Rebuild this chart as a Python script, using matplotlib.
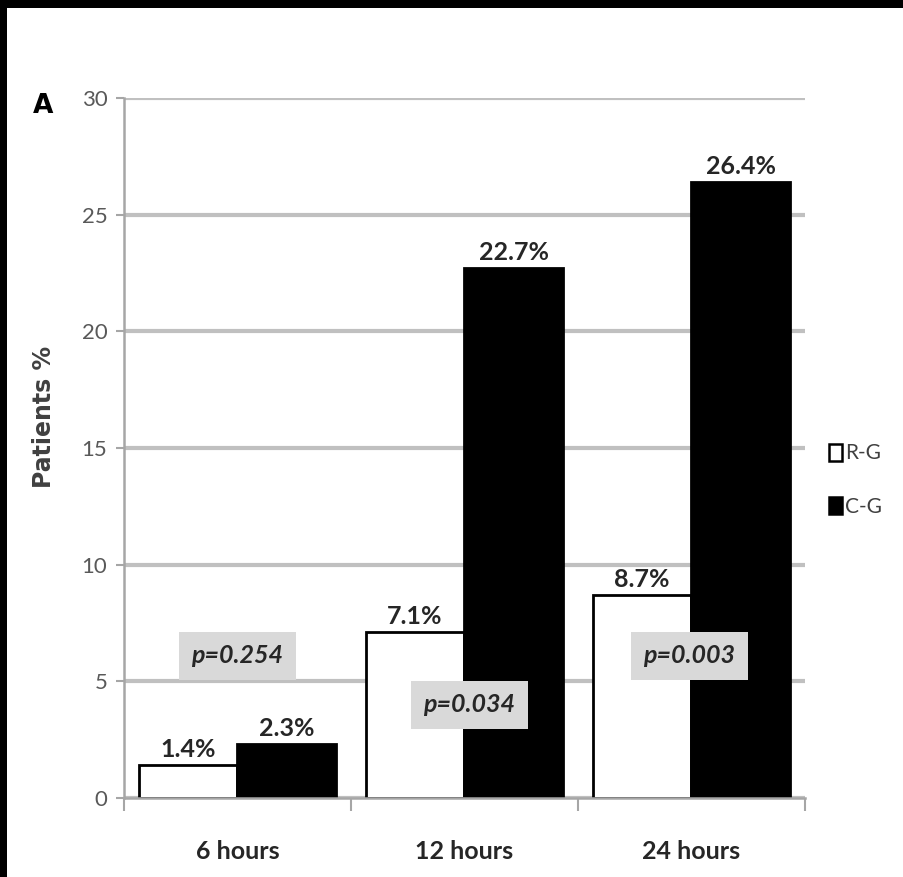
import matplotlib
matplotlib.use("Agg")
import matplotlib.pyplot as plt
from matplotlib.patches import Patch, Rectangle
import numpy as np

# Data
categories = ["6 hours", "12 hours", "24 hours"]
series_names = ["R-G", "C-G"]
rg_values = [1.4, 7.1, 8.7]
cg_values = [2.3, 22.7, 26.4]
p_labels = ["p=0.254", "p=0.034", "p=0.003"]
y_ticks = [0, 5, 10, 15, 20, 25, 30]

# Annotation placement for the p-value boxes (data coordinates)
p_pos_x = [0.0, 1.02, 1.99]
p_pos_y = [6.1, 4.0, 6.1]

W, H = 904, 877
fig = plt.figure(figsize=(W / 100, H / 100), dpi=100)
fig.patch.set_facecolor("black")
# white page inside the thin black frame (top and left)
fig.add_artist(Rectangle((7 / W, 0), 1 - 7 / W, 1 - 8 / H,
                         transform=fig.transFigure, facecolor="white",
                         edgecolor="none", zorder=0))

ax = fig.add_axes([124 / W, 79 / H, (805 - 124) / W, 700 / H])
ax.set_facecolor("none")

x = np.arange(len(categories))
bw = 0.436
ax.bar(x - bw / 2, rg_values, width=bw, color="white", edgecolor="black",
       linewidth=2, zorder=3)
ax.bar(x + bw / 2, cg_values, width=bw, color="black", edgecolor="black",
       linewidth=2, zorder=3)

lab_font = dict(family="Lato", fontweight="bold", fontsize=18, color="#262626")
for xi, v in zip(x - bw / 2, rg_values):
    ax.annotate(f"{v:.1f}%", (xi, v), xytext=(0, 3), textcoords="offset points",
                ha="center", va="bottom", zorder=5, **lab_font)
for xi, v in zip(x + bw / 2, cg_values):
    ax.annotate(f"{v:.1f}%", (xi, v), xytext=(0, 3), textcoords="offset points",
                ha="center", va="bottom", zorder=5, **lab_font)

for px, py, t in zip(p_pos_x, p_pos_y, p_labels):
    ax.text(px, py, t, ha="center", va="center", family="Lato",
            fontweight="bold", fontstyle="italic", fontsize=18, color="#262626",
            zorder=6,
            bbox=dict(boxstyle="square,pad=0.5", facecolor="#d9d9d9",
                      edgecolor="none"))

ax.set_xlim(-0.5, 2.5)
ax.set_ylim(0, 30)
ax.set_yticks(y_ticks)
ax.set_yticklabels([str(t) for t in y_ticks], family="Lato", fontsize=16,
                   color="#595959")
ax.yaxis.grid(True, color="#c0c0c0", linewidth=3, zorder=0)
ax.set_axisbelow(True)
ax.tick_params(axis="y", length=6, width=1.5, color="#a6a6a6", pad=6)

ax.set_xticks(x)
ax.set_xticklabels(categories, family="Lato", fontweight="bold", fontsize=18,
                   color="#262626")
ax.tick_params(axis="x", length=0, pad=30)
ax.set_xticks([-0.5, 0.5, 1.5, 2.5], minor=True)
ax.tick_params(axis="x", which="minor", length=9, width=1.5, color="#a6a6a6")

for s in ["top", "right"]:
    ax.spines[s].set_visible(False)
for s in ["left", "bottom"]:
    ax.spines[s].set_color("#a6a6a6")
    ax.spines[s].set_linewidth(1.8)
    ax.spines[s].set_zorder(4)

ax.set_ylabel("Patients %", family="DejaVu Sans", fontweight="bold",
              fontsize=17, color="#404040")
ax.yaxis.set_label_coords(-0.1, 0.545)

fig.text(43 / W, 1 - 106 / H, "A", family="DejaVu Sans", fontweight="bold",
         fontsize=19, color="black", ha="center", va="center")

handles = [Patch(facecolor="white", edgecolor="black", linewidth=1.8),
           Patch(facecolor="black", edgecolor="black", linewidth=1.8)]
fig.legend(handles, series_names, loc="center left",
           bbox_to_anchor=(810 / W, 1 - 480 / H), frameon=False,
           handlelength=0.65, handleheight=0.9, handletextpad=0.15,
           labelspacing=1.6, prop=dict(family="Lato", size=15),
           labelcolor="#404040")

fig.savefig("out.png", dpi=100, facecolor=fig.get_facecolor())
